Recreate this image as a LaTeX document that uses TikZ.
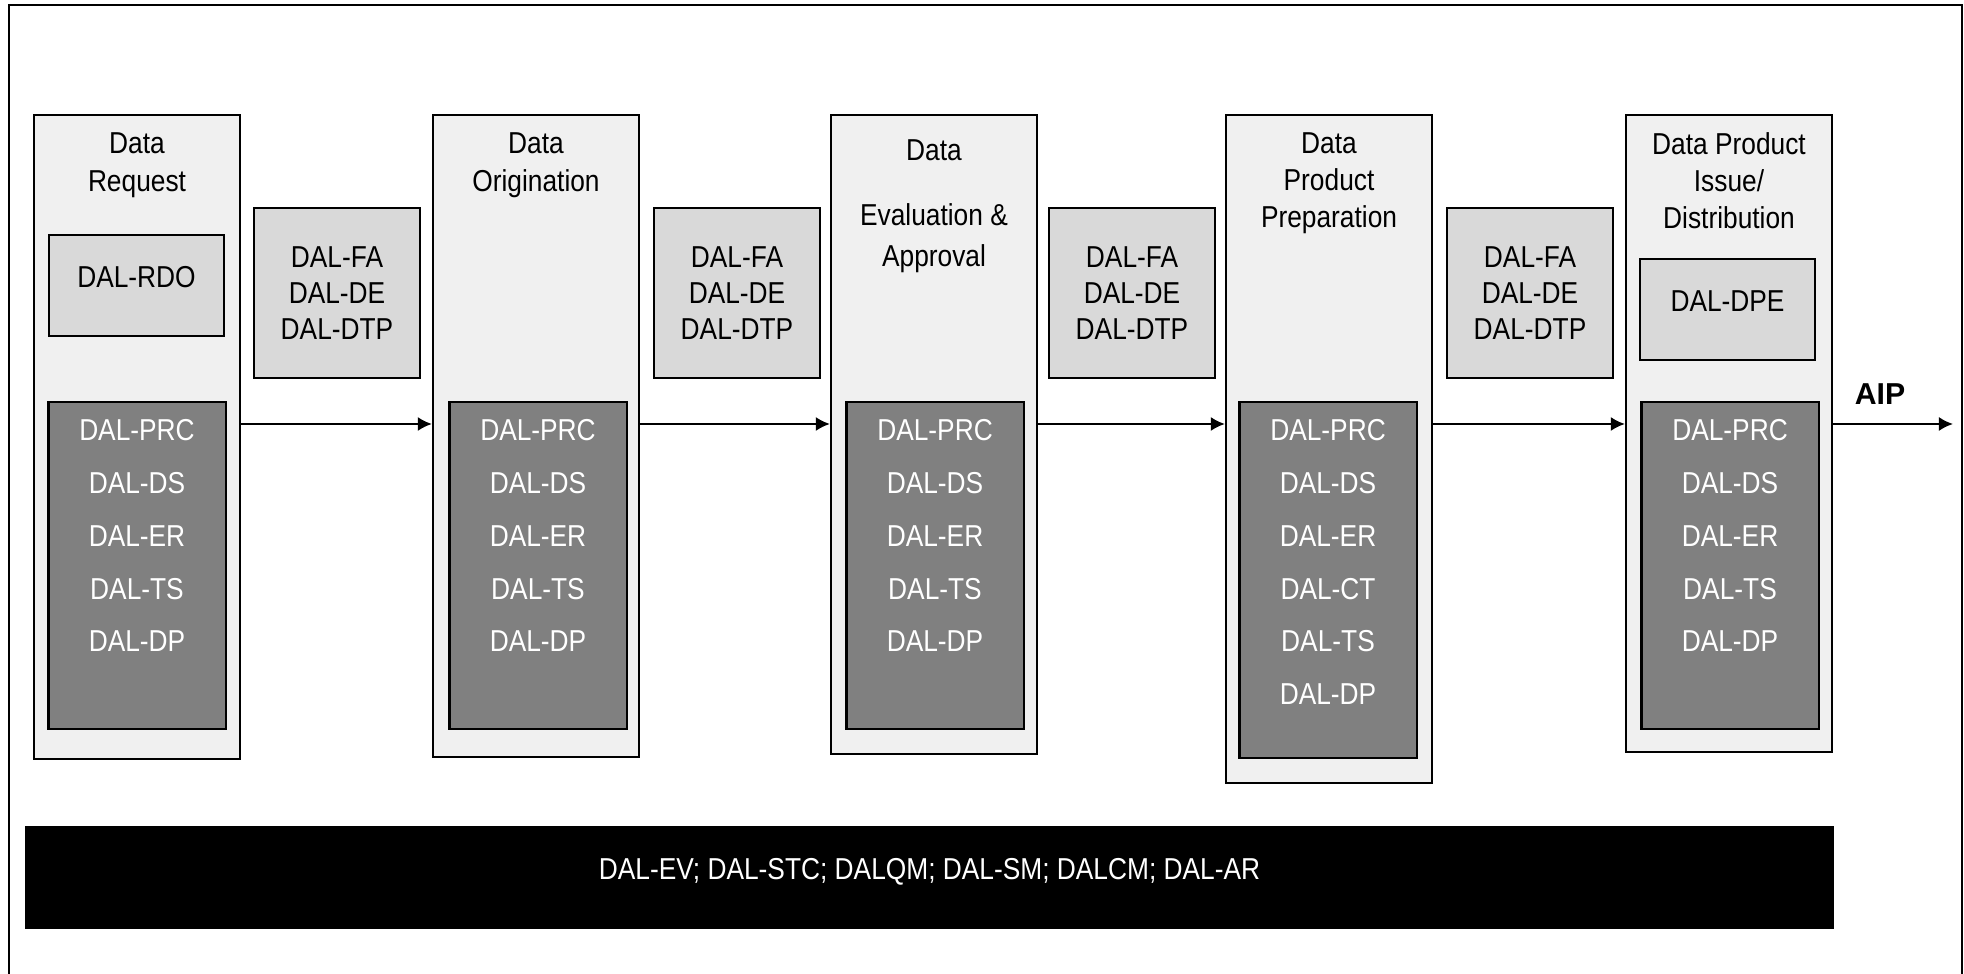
\documentclass[tikz,border=0pt]{standalone}
\usepackage{fontspec}
\setmainfont{Liberation Sans}[FakeStretch=0.87]
\newfontfamily\aipfont{Liberation Sans}
\usetikzlibrary{arrows.meta}

\definecolor{phasegray}{HTML}{F0F0F0}
\definecolor{flowgray}{HTML}{D9D9D9}
\definecolor{dalgray}{HTML}{808080}

\newcommand{\dalsize}{\fontsize{8.6pt}{10.8pt}\selectfont}

\tikzset{
    phase/.style={draw, line width=0.6pt, fill=phasegray, minimum width=2.06cm, inner sep=0pt, anchor=north},
    phasetitle/.style={anchor=north, align=center, inner sep=0pt, font=\dalsize},
    flowbox/.style={draw, line width=0.6pt, fill=flowgray, minimum width=1.66cm, minimum height=1.70cm,
        align=center, inner sep=0pt, font=\fontsize{8.6pt}{10.2pt}\selectfont},
    dalbox/.style={draw, line width=0.6pt, fill=dalgray, minimum width=1.77cm, inner sep=0pt, anchor=north},
    dallist/.style={anchor=north, align=center, inner sep=0pt, text=white, font=\fontsize{8.6pt}{15pt}\selectfont},
    raised/.style={text height=6.2pt, text depth=5.1pt},
    flow/.style={->, line width=0.6pt},
}

\begin{document}
\begin{tikzpicture}[x=0.01cm, y=-0.01cm, >={Latex[length=4pt,width=4pt]}]
    \useasboundingbox (0,0) rectangle (1964,974);
    % frame, open at the bottom
    \draw[line width=0.6pt] (9,974) -- (9,5) -- (1962,5) -- (1962,974);

    % phases
    \foreach \n/\x/\h in {1/137/644, 2/536/642, 3/934/639, 4/1329/668, 5/1729/637} {
        \node[phase, minimum height=\h*0.01cm] (P\n) at (\x,114) {};
    }
    \node[phasetitle] (T1) at (137,132) {Data\\Request};
    \node[phasetitle] (T2) at (536,132) {Data\\Origination};
    \node[phasetitle] (T3) at (934,139) {Data\\[7.6pt]Evaluation \&\\[1pt]Approval};
    \node[phasetitle, font=\fontsize{8.6pt}{10.5pt}\selectfont] (T4) at (1329,132) {Data\\Product\\Preparation};
    \node[phasetitle, font=\fontsize{8.6pt}{10.5pt}\selectfont] (T5) at (1729,132) {Data Product\\Issue/\\Distribution};

    \node[flowbox, raised, minimum width=1.75cm, minimum height=1.01cm] (RDO) at (136.5,285.5) {DAL-RDO};
    \node[flowbox, raised, minimum width=1.75cm, minimum height=1.01cm] (DPE) at (1727.5,309.5) {DAL-DPE};

    % DAL lists
    \foreach \n/\x/\h in {1/137/327, 2/538/327, 3/935/327, 4/1328/356, 5/1730/327} {
        \node[dalbox, minimum height=\h*0.01cm] (D\n) at (\x,401) {};
    }
    \foreach \n/\x in {1/137, 2/538, 3/935, 5/1730} {
        \node[dallist] (L\n) at (\x,419) {DAL-PRC\\DAL-DS\\DAL-ER\\DAL-TS\\DAL-DP};
    }
    \node[dallist] (L4) at (1328,419) {DAL-PRC\\DAL-DS\\DAL-ER\\DAL-CT\\DAL-TS\\DAL-DP};

    % between phases
    \foreach \n/\x in {1/337, 2/737, 3/1132, 4/1530} {
        \node[flowbox] (F\n) at (\x,293) {DAL-FA\\DAL-DE\\DAL-DTP};
    }

    \coordinate (row) at (0,424);
    \foreach \a/\b in {1/2, 2/3, 3/4, 4/5} {
        \draw[flow] (P\a.east |- row) -- (P\b.west |- row);
    }
    \coordinate (out) at (1953,424);
    \draw[flow] (P5.east |- row) -- (out);
    \node[font=\aipfont\bfseries\dalsize] (AIP) at (1880,394) {AIP};

    \node[draw, fill=black, text=white, minimum width=18.07cm, minimum height=1.01cm, raised,
        font=\dalsize] (common) at (929.5,877.5) {DAL-EV; DAL-STC; DALQM; DAL-SM; DALCM; DAL-AR};
\end{tikzpicture}
\end{document}
